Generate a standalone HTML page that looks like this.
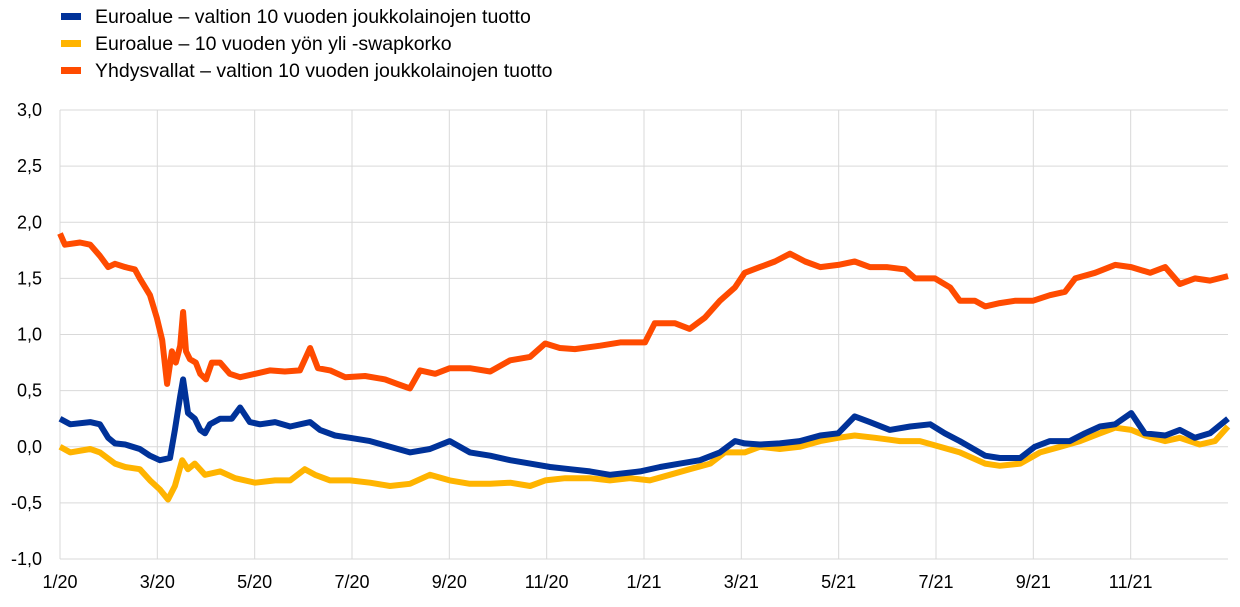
<!DOCTYPE html>
<html><head><meta charset="utf-8"><style>
body{margin:0;background:#fff;font-family:"Liberation Sans",Arial,sans-serif;}
</style></head><body>
<svg width="1240" height="602" xmlns="http://www.w3.org/2000/svg" font-family="Liberation Sans, Arial, sans-serif">
<g id="legend"></g>
<g id="grid"></g>
<g id="axes"></g>
<g id="series"></g>
</svg>
<script>
const monthLabels=["1/20","3/20","5/20","7/20","9/20","11/20","1/21","3/21","5/21","7/21","9/21","11/21"];
const yTicks=[3.0,2.5,2.0,1.5,1.0,0.5,0.0,-0.5,-1.0];
const seriesNames=["Euroalue – valtion 10 vuoden joukkolainojen tuotto","Euroalue – 10 vuoden yön yli -swapkorko","Yhdysvallat – valtion 10 vuoden joukkolainojen tuotto"];
const usT=[0,0.1,0.41,0.62,0.82,0.99,1.13,1.34,1.54,1.64,1.85,1.99,2.1,2.2,2.3,2.38,2.47,2.53,2.59,2.67,2.79,2.88,3.0,3.12,3.29,3.49,3.7,4.01,4.31,4.62,4.93,5.14,5.3,5.55,5.86,6.27,6.68,6.99,7.19,7.4,7.71,8.01,8.42,8.84,9.25,9.66,9.97,10.27,10.58,11.1,11.51,12.02,12.22,12.64,12.94,13.25,13.56,13.87,14.07,14.38,14.69,15.0,15.31,15.62,15.99,16.33,16.64,16.99,17.36,17.57,17.98,18.29,18.49,18.8,19.01,19.31,19.62,19.99,20.34,20.65,20.86,21.27,21.68,22.01,22.4,22.71,23.01,23.32,23.63,24];
const usV=[1.9,1.8,1.82,1.8,1.7,1.6,1.63,1.6,1.58,1.5,1.35,1.15,0.95,0.56,0.85,0.75,0.9,1.2,0.85,0.78,0.75,0.65,0.6,0.75,0.75,0.65,0.62,0.65,0.68,0.67,0.68,0.88,0.7,0.68,0.62,0.63,0.6,0.55,0.52,0.68,0.65,0.7,0.7,0.67,0.77,0.8,0.92,0.88,0.87,0.9,0.93,0.93,1.1,1.1,1.05,1.15,1.3,1.42,1.55,1.6,1.65,1.72,1.65,1.6,1.62,1.65,1.6,1.6,1.58,1.5,1.5,1.42,1.3,1.3,1.25,1.28,1.3,1.3,1.35,1.38,1.5,1.55,1.62,1.6,1.55,1.6,1.45,1.5,1.48,1.52];
const eaT=[0,0.21,0.62,0.82,0.99,1.13,1.34,1.64,1.85,2.05,2.26,2.36,2.47,2.53,2.63,2.77,2.88,2.98,3.08,3.29,3.53,3.7,3.9,4.11,4.42,4.73,5.14,5.34,5.65,5.96,6.37,6.78,7.19,7.6,8.01,8.42,8.84,9.25,9.66,10.07,10.48,10.89,11.3,11.92,12.33,12.74,13.15,13.56,13.87,14.07,14.38,14.79,15.2,15.62,15.99,16.33,16.64,17.05,17.47,17.88,18.18,18.49,19.01,19.31,19.73,20.03,20.34,20.75,21.06,21.37,21.68,22.01,22.29,22.71,23.01,23.32,23.63,24];
const eaV=[0.25,0.2,0.22,0.2,0.08,0.03,0.02,-0.02,-0.08,-0.12,-0.1,0.15,0.45,0.6,0.3,0.25,0.15,0.12,0.2,0.25,0.25,0.35,0.22,0.2,0.22,0.18,0.22,0.15,0.1,0.08,0.05,0.0,-0.05,-0.02,0.05,-0.05,-0.08,-0.12,-0.15,-0.18,-0.2,-0.22,-0.25,-0.22,-0.18,-0.15,-0.12,-0.05,0.05,0.03,0.02,0.03,0.05,0.1,0.12,0.27,0.22,0.15,0.18,0.2,0.12,0.05,-0.08,-0.1,-0.1,0.0,0.05,0.05,0.12,0.18,0.2,0.3,0.12,0.1,0.15,0.08,0.12,0.25];
const swT=[0,0.21,0.62,0.82,1.13,1.34,1.64,1.85,2.05,2.22,2.36,2.51,2.63,2.77,2.98,3.29,3.6,4.01,4.42,4.73,5.03,5.24,5.55,5.96,6.37,6.78,7.19,7.6,8.01,8.42,8.84,9.25,9.66,9.97,10.38,10.89,11.3,11.71,12.12,12.53,12.94,13.36,13.66,14.07,14.38,14.79,15.2,15.62,15.99,16.33,16.75,17.26,17.67,18.08,18.49,19.01,19.31,19.73,20.14,20.55,20.96,21.37,21.68,22.01,22.29,22.71,23.01,23.42,23.73,24];
const swV=[0.0,-0.05,-0.02,-0.05,-0.15,-0.18,-0.2,-0.3,-0.38,-0.47,-0.35,-0.12,-0.2,-0.15,-0.25,-0.22,-0.28,-0.32,-0.3,-0.3,-0.2,-0.25,-0.3,-0.3,-0.32,-0.35,-0.33,-0.25,-0.3,-0.33,-0.33,-0.32,-0.35,-0.3,-0.28,-0.28,-0.3,-0.28,-0.3,-0.25,-0.2,-0.15,-0.05,-0.05,0.0,-0.02,0.0,0.05,0.08,0.1,0.08,0.05,0.05,0.0,-0.05,-0.15,-0.17,-0.15,-0.05,0.0,0.05,0.12,0.17,0.15,0.1,0.05,0.08,0.02,0.05,0.18];

const NS="http://www.w3.org/2000/svg";
const X0=60,X1=1228,Y0=110,Y1=559;
const xS=m=>X0+(X1-X0)*m/24;
const yS=v=>Y1-(v+1)/4*(Y1-Y0);
function mk(tag,attrs,parent,text){const e=document.createElementNS(NS,tag);for(const k in attrs)e.setAttribute(k,attrs[k]);if(text!==undefined)e.textContent=text;parent.appendChild(e);return e;}
const grid=document.getElementById('grid'),axes=document.getElementById('axes'),ser=document.getElementById('series'),leg=document.getElementById('legend');
yTicks.forEach((t,i)=>{
  const l=mk('line',{x1:X0,x2:X1,y1:yS(t),y2:yS(t),stroke:'#d9d9d9','stroke-width':1},grid);
  
  
  const tx=mk('text',{x:42,y:yS(t)+6,'text-anchor':'end','font-size':18,fill:'#000'},axes,t.toFixed(1).replace('.',','));
  
  
});
monthLabels.forEach((lab,i)=>{
  const x=xS(i*2);
  const l=mk('line',{x1:x,x2:x,y1:Y0,y2:Y1,stroke:'#d9d9d9','stroke-width':1},grid);
  
  
  const tx=mk('text',{x:x,y:588,'text-anchor':'middle','font-size':18,fill:'#000'},axes,lab);
  
  
});
const colors=['#003299','#ffb400','#ff4b00'];
const data=[[eaT,eaV],[swT,swV],[usT,usV]];
[2,1,0].forEach(i=>{
  const [T,V]=data[i];
  const d=T.map((t,j)=>(j?'L':'M')+xS(t).toFixed(1)+','+yS(V[j]).toFixed(1)).join(' ');
  const p=mk('path',{d:d,fill:'none',stroke:colors[i],'stroke-width':6,'stroke-linejoin':'round'},ser);
  
  
});
seriesNames.forEach((n,i)=>{
  const y=16+i*27;
  const r=mk('rect',{x:61,y:y-3,width:20,height:7,fill:colors[i]},leg);
  
  
  const t=mk('text',{x:95,y:y+7,'font-size':19.5,fill:'#000'},leg,n);
  
  
});
</script>
</body></html>
